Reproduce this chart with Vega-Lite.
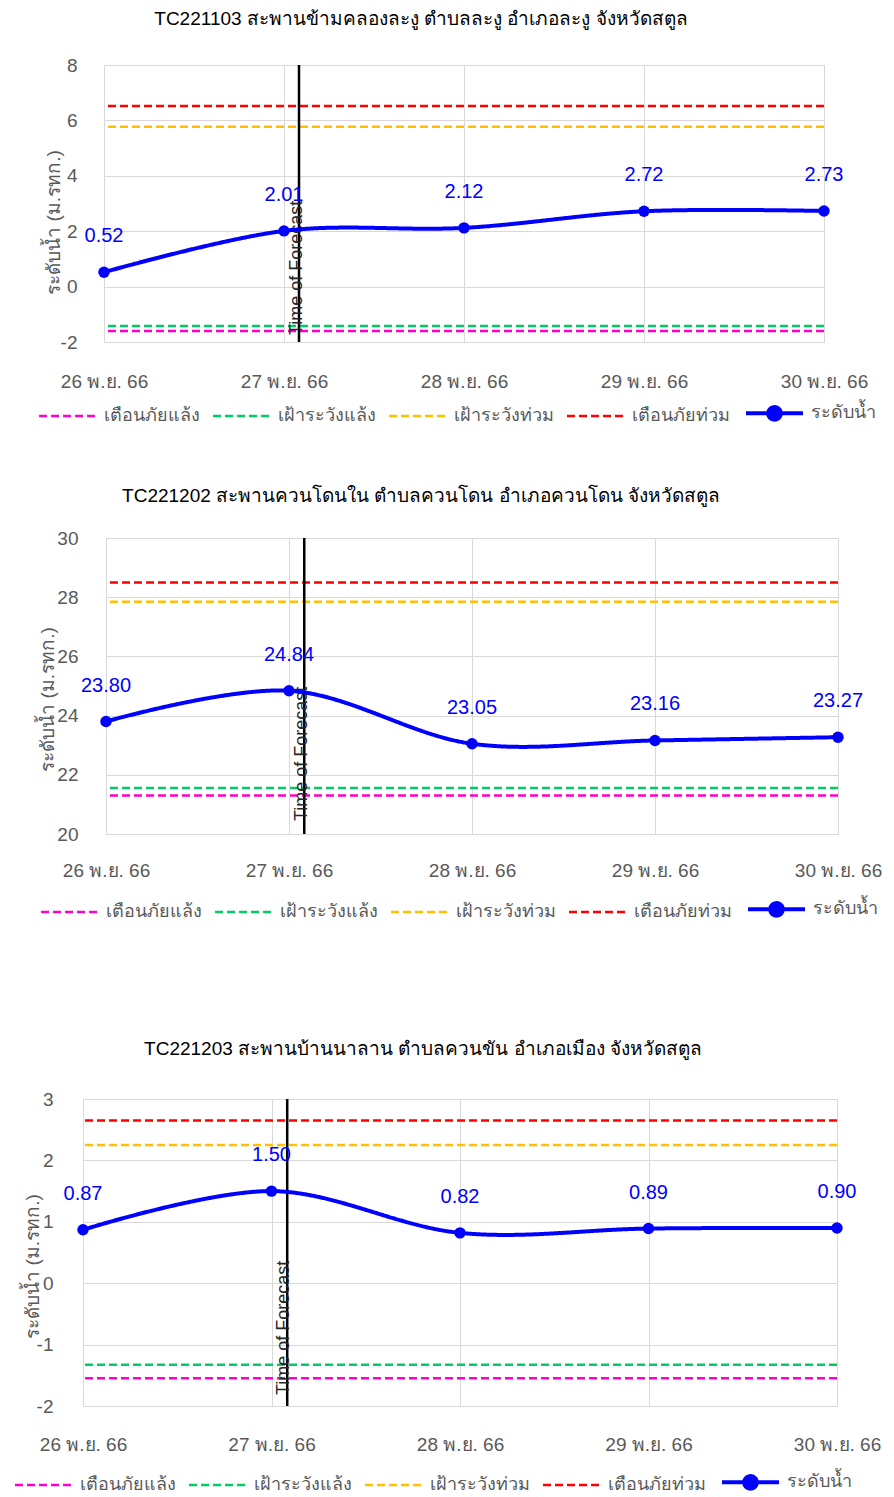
{
  "$schema": "https://vega.github.io/schema/vega-lite/v6.json",
  "padding": {"left": 15, "top": 9, "right": 0, "bottom": 0},
  "background": "white",
  "config": {
    "font": "Liberation Sans",
    "view": {"stroke": "#d9d9d9"},
    "axis": {"domain": false, "ticks": false, "gridColor": "#d9d9d9", "gridWidth": 1, "labelColor": "#595959", "labelFontSize": 19, "titleColor": "#595959", "titleFontSize": 19, "titleFontWeight": "normal"},
    "title": {"fontSize": 19, "fontWeight": "normal", "color": "#000000"},
    "legend": {"symbolType": "stroke", "symbolSize": 3249, "symbolStrokeWidth": 2.5, "symbolOffset": 18.5, "labelFontSize": 18, "labelColor": "#595959", "labelOffset": 27.5, "columnPadding": 8, "labelLimit": 0, "direction": "horizontal"}
  },
  "resolve": {"scale": {"color": "independent", "strokeDash": "independent"}},
  "spacing": 114,
  "vconcat": [
    {
      "resolve": {"scale": {"color": "independent", "strokeDash": "independent"}},
      "spacing": 57,
      "vconcat": [
        {
          "resolve": {"scale": {"color": "independent", "strokeDash": "independent"}},
          "spacing": -45,
          "hconcat": [
            {"width": 1, "height": 1, "view": {"stroke": null}, "data": {"values": []}, "mark": "point", "encoding": {}},
            {
              "width": 720,
              "height": 277,
              "title": {"text": "TC221103 สะพานข้ามคลองละงู ตำบลละงู อำเภอละงู  จังหวัดสตูล", "dx": -43, "offset": 27},
              "layer": [
                {
                  "data": {"values": [
                    {"series": "เตือนภัยแล้ง", "level": -1.6},
                    {"series": "เฝ้าระวังแล้ง", "level": -1.42},
                    {"series": "เฝ้าระวังท่วม", "level": 5.77},
                    {"series": "เตือนภัยท่วม", "level": 6.52}
                  ]},
                  "mark": {"type": "rule", "strokeWidth": 2.5},
                  "encoding": {
                    "y": {"field": "level", "type": "quantitative", "title": "ระดับน้ำ (ม.รทก.)", "scale": {"domain": [-2, 8], "nice": false}, "axis": {"values": [-2, 0, 2, 4, 6, 8], "format": "d", "labelExpr": "replace(datum.label, '−', '-')", "labelPadding": 27, "titleX": -51, "titleY": 157, "titleAlign": "center", "titleBaseline": "middle", "titleAngle": 270}},
                    "color": {"field": "series", "type": "nominal", "scale": {"domain": ["เตือนภัยแล้ง", "เฝ้าระวังแล้ง", "เฝ้าระวังท่วม", "เตือนภัยท่วม", "ระดับน้ำ"], "range": ["#FF00CC", "#00CC66", "#FFC000", "#FF0000", "#0000FF"]}, "legend": {"title": null, "orient": "none", "legendX": -64, "legendY": 339, "encode": {"symbols": {"update": {"shape": {"signal": "datum.value === 'ระดับน้ำ' ? 'M-1,0L1,0M-0.22,0A0.22,0.22,0,1,1,0.22,0A0.22,0.22,0,1,1,-0.22,0Z' : 'stroke'"}, "strokeWidth": {"signal": "datum.value === 'ระดับน้ำ' ? 4 : 2.5"}, "fill": {"signal": "datum.value === 'ระดับน้ำ' ? '#0000FF' : 'transparent'"}}}}}},
                    "strokeDash": {"field": "series", "type": "nominal", "scale": {"domain": ["เตือนภัยแล้ง", "เฝ้าระวังแล้ง", "เฝ้าระวังท่วม", "เตือนภัยท่วม", "ระดับน้ำ"], "range": [[8, 4], [8, 4], [8, 4], [8, 4], [1, 0]]}, "legend": {"title": null, "orient": "none", "legendX": -64, "legendY": 339}}
                  }
                },
                {
                  "data": {"values": [{"date": "2023-11-27T02:00:00"}]},
                  "mark": {"type": "rule", "color": "#000000", "strokeWidth": 2.5},
                  "encoding": {
                    "x": {"field": "date", "type": "temporal", "title": null, "scale": {"domain": [{"year": 2023, "month": 11, "date": 26}, {"year": 2023, "month": 11, "date": 30}], "nice": false}, "axis": {"tickCount": {"interval": "day", "step": 1}, "labelExpr": "date(datum.value) + ' พ.ย. 66'", "labelFlush": false, "labelOverlap": false, "labelPadding": 30, "grid": true}}
                  }
                },
                {
                  "data": {"values": [{"date": "2023-11-27T02:00:00"}]},
                  "mark": {"type": "text", "text": "Time of Forecast", "angle": 270, "align": "left", "baseline": "middle", "fontSize": 18, "color": "#262626", "dx": 7, "dy": -2},
                  "encoding": {
                    "x": {"field": "date", "type": "temporal", "title": null},
                    "y": {"datum": -2}
                  }
                },
                {
                  "data": {"values": [
                    {"date": "2023-11-26T00:00:00", "level": 0.52, "series": "ระดับน้ำ"},
                    {"date": "2023-11-27T00:00:00", "level": 2.01, "series": "ระดับน้ำ"},
                    {"date": "2023-11-28T00:00:00", "level": 2.12, "series": "ระดับน้ำ"},
                    {"date": "2023-11-29T00:00:00", "level": 2.72, "series": "ระดับน้ำ"},
                    {"date": "2023-11-30T00:00:00", "level": 2.73, "series": "ระดับน้ำ"}
                  ]},
                  "layer": [
                    {
                      "mark": {"type": "line", "interpolate": "cardinal", "strokeWidth": 4, "point": {"filled": true, "size": 130}},
                      "encoding": {
                        "x": {"field": "date", "type": "temporal", "title": null},
                        "y": {"field": "level", "type": "quantitative", "title": "ระดับน้ำ (ม.รทก.)"},
                        "color": {"field": "series", "type": "nominal"},
                        "strokeDash": {"field": "series", "type": "nominal"}
                      }
                    },
                    {
                      "mark": {"type": "text", "dy": -36, "fontSize": 20, "color": "#0000FF"},
                      "encoding": {
                        "x": {"field": "date", "type": "temporal", "title": null},
                        "y": {"field": "level", "type": "quantitative", "title": "ระดับน้ำ (ม.รทก.)"},
                        "text": {"field": "level", "type": "quantitative", "format": ".2f"}
                      }
                    }
                  ]
                }
              ]
            }
          ]
        },
        {
          "resolve": {"scale": {"color": "independent", "strokeDash": "independent"}},
          "spacing": -47,
          "hconcat": [
            {"width": 1, "height": 1, "view": {"stroke": null}, "data": {"values": []}, "mark": "point", "encoding": {}},
            {
              "width": 732,
              "height": 296,
              "title": {"text": "TC221202 สะพานควนโดนใน ตำบลควนโดน อำเภอควนโดน  จังหวัดสตูล", "dx": -51, "offset": 23},
              "layer": [
                {
                  "data": {"values": [
                    {"series": "เตือนภัยแล้ง", "level": 21.3},
                    {"series": "เฝ้าระวังแล้ง", "level": 21.55},
                    {"series": "เฝ้าระวังท่วม", "level": 27.85},
                    {"series": "เตือนภัยท่วม", "level": 28.5}
                  ]},
                  "mark": {"type": "rule", "strokeWidth": 2.5},
                  "encoding": {
                    "y": {"field": "level", "type": "quantitative", "title": "ระดับน้ำ (ม.รทก.)", "scale": {"domain": [20, 30], "nice": false, "zero": false}, "axis": {"values": [20, 22, 24, 26, 28, 30], "format": "d", "labelPadding": 28, "titleX": -59, "titleY": 161, "titleAlign": "center", "titleBaseline": "middle", "titleAngle": 270}},
                    "color": {"field": "series", "type": "nominal", "scale": {"domain": ["เตือนภัยแล้ง", "เฝ้าระวังแล้ง", "เฝ้าระวังท่วม", "เตือนภัยท่วม", "ระดับน้ำ"], "range": ["#FF00CC", "#00CC66", "#FFC000", "#FF0000", "#0000FF"]}, "legend": {"title": null, "orient": "none", "legendX": -64, "legendY": 362, "encode": {"symbols": {"update": {"shape": {"signal": "datum.value === 'ระดับน้ำ' ? 'M-1,0L1,0M-0.22,0A0.22,0.22,0,1,1,0.22,0A0.22,0.22,0,1,1,-0.22,0Z' : 'stroke'"}, "strokeWidth": {"signal": "datum.value === 'ระดับน้ำ' ? 4 : 2.5"}, "fill": {"signal": "datum.value === 'ระดับน้ำ' ? '#0000FF' : 'transparent'"}}}}}},
                    "strokeDash": {"field": "series", "type": "nominal", "scale": {"domain": ["เตือนภัยแล้ง", "เฝ้าระวังแล้ง", "เฝ้าระวังท่วม", "เตือนภัยท่วม", "ระดับน้ำ"], "range": [[8, 4], [8, 4], [8, 4], [8, 4], [1, 0]]}, "legend": {"title": null, "orient": "none", "legendX": -64, "legendY": 362}}
                  }
                },
                {
                  "data": {"values": [{"date": "2023-11-27T02:00:00"}]},
                  "mark": {"type": "rule", "color": "#000000", "strokeWidth": 2.5},
                  "encoding": {
                    "x": {"field": "date", "type": "temporal", "title": null, "scale": {"domain": [{"year": 2023, "month": 11, "date": 26}, {"year": 2023, "month": 11, "date": 30}], "nice": false}, "axis": {"tickCount": {"interval": "day", "step": 1}, "labelExpr": "date(datum.value) + ' พ.ย. 66'", "labelFlush": false, "labelOverlap": false, "labelPadding": 27, "grid": true}}
                  }
                },
                {
                  "data": {"values": [{"date": "2023-11-27T02:00:00"}]},
                  "mark": {"type": "text", "text": "Time of Forecast", "angle": 270, "align": "left", "baseline": "middle", "fontSize": 18, "color": "#262626", "dx": 13, "dy": -2},
                  "encoding": {
                    "x": {"field": "date", "type": "temporal", "title": null},
                    "y": {"datum": 20}
                  }
                },
                {
                  "data": {"values": [
                    {"date": "2023-11-26T00:00:00", "level": 23.80, "series": "ระดับน้ำ"},
                    {"date": "2023-11-27T00:00:00", "level": 24.84, "series": "ระดับน้ำ"},
                    {"date": "2023-11-28T00:00:00", "level": 23.05, "series": "ระดับน้ำ"},
                    {"date": "2023-11-29T00:00:00", "level": 23.16, "series": "ระดับน้ำ"},
                    {"date": "2023-11-30T00:00:00", "level": 23.27, "series": "ระดับน้ำ"}
                  ]},
                  "layer": [
                    {
                      "mark": {"type": "line", "interpolate": "cardinal", "strokeWidth": 4, "point": {"filled": true, "size": 130}},
                      "encoding": {
                        "x": {"field": "date", "type": "temporal", "title": null},
                        "y": {"field": "level", "type": "quantitative", "title": "ระดับน้ำ (ม.รทก.)"},
                        "color": {"field": "series", "type": "nominal"},
                        "strokeDash": {"field": "series", "type": "nominal"}
                      }
                    },
                    {
                      "mark": {"type": "text", "dy": -36, "fontSize": 20, "color": "#0000FF"},
                      "encoding": {
                        "x": {"field": "date", "type": "temporal", "title": null},
                        "y": {"field": "level", "type": "quantitative", "title": "ระดับน้ำ (ม.รทก.)"},
                        "text": {"field": "level", "type": "quantitative", "format": ".2f"}
                      }
                    }
                  ]
                }
              ]
            }
          ]
        }
      ]
    },
    {
      "width": 754,
      "height": 307,
      "title": {"text": "TC221203 สะพานบ้านนาลาน ตำบลควนขัน อำเภอเมือง  จังหวัดสตูล", "dx": -37, "offset": 31},
      "layer": [
        {
          "data": {"values": [
            {"series": "เตือนภัยแล้ง", "level": -1.55},
            {"series": "เฝ้าระวังแล้ง", "level": -1.33},
            {"series": "เฝ้าระวังท่วม", "level": 2.25},
            {"series": "เตือนภัยท่วม", "level": 2.65}
          ]},
          "mark": {"type": "rule", "strokeWidth": 2.5},
          "encoding": {
            "y": {"field": "level", "type": "quantitative", "title": "ระดับน้ำ (ม.รทก.)", "scale": {"domain": [-2, 3], "nice": false}, "axis": {"values": [-2, -1, 0, 1, 2, 3], "format": "d", "labelExpr": "replace(datum.label, '−', '-')", "labelPadding": 30, "titleX": -51, "titleY": 167, "titleAlign": "center", "titleBaseline": "middle", "titleAngle": 270}},
            "color": {"field": "series", "type": "nominal", "scale": {"domain": ["เตือนภัยแล้ง", "เฝ้าระวังแล้ง", "เฝ้าระวังท่วม", "เตือนภัยท่วม", "ระดับน้ำ"], "range": ["#FF00CC", "#00CC66", "#FFC000", "#FF0000", "#0000FF"]}, "legend": {"title": null, "orient": "none", "legendX": -67, "legendY": 374, "encode": {"symbols": {"update": {"shape": {"signal": "datum.value === 'ระดับน้ำ' ? 'M-1,0L1,0M-0.22,0A0.22,0.22,0,1,1,0.22,0A0.22,0.22,0,1,1,-0.22,0Z' : 'stroke'"}, "strokeWidth": {"signal": "datum.value === 'ระดับน้ำ' ? 4 : 2.5"}, "fill": {"signal": "datum.value === 'ระดับน้ำ' ? '#0000FF' : 'transparent'"}}}}}},
            "strokeDash": {"field": "series", "type": "nominal", "scale": {"domain": ["เตือนภัยแล้ง", "เฝ้าระวังแล้ง", "เฝ้าระวังท่วม", "เตือนภัยท่วม", "ระดับน้ำ"], "range": [[8, 4], [8, 4], [8, 4], [8, 4], [1, 0]]}, "legend": {"title": null, "orient": "none", "legendX": -67, "legendY": 374}}
          }
        },
        {
          "data": {"values": [{"date": "2023-11-27T02:00:00"}]},
          "mark": {"type": "rule", "color": "#000000", "strokeWidth": 2.5},
          "encoding": {
            "x": {"field": "date", "type": "temporal", "title": null, "scale": {"domain": [{"year": 2023, "month": 11, "date": 26}, {"year": 2023, "month": 11, "date": 30}], "nice": false}, "axis": {"tickCount": {"interval": "day", "step": 1}, "labelExpr": "date(datum.value) + ' พ.ย. 66'", "labelFlush": false, "labelOverlap": false, "labelPadding": 29, "grid": true}}
          }
        },
        {
          "data": {"values": [{"date": "2023-11-27T02:00:00"}]},
          "mark": {"type": "text", "text": "Time of Forecast", "angle": 270, "align": "left", "baseline": "middle", "fontSize": 18, "color": "#262626", "dx": 11, "dy": -3},
          "encoding": {
            "x": {"field": "date", "type": "temporal", "title": null},
            "y": {"datum": -2}
          }
        },
        {
          "data": {"values": [
            {"date": "2023-11-26T00:00:00", "level": 0.87, "series": "ระดับน้ำ"},
            {"date": "2023-11-27T00:00:00", "level": 1.50, "series": "ระดับน้ำ"},
            {"date": "2023-11-28T00:00:00", "level": 0.82, "series": "ระดับน้ำ"},
            {"date": "2023-11-29T00:00:00", "level": 0.89, "series": "ระดับน้ำ"},
            {"date": "2023-11-30T00:00:00", "level": 0.90, "series": "ระดับน้ำ"}
          ]},
          "layer": [
            {
              "mark": {"type": "line", "interpolate": "cardinal", "strokeWidth": 4, "point": {"filled": true, "size": 130}},
              "encoding": {
                "x": {"field": "date", "type": "temporal", "title": null},
                "y": {"field": "level", "type": "quantitative", "title": "ระดับน้ำ (ม.รทก.)"},
                "color": {"field": "series", "type": "nominal"},
                "strokeDash": {"field": "series", "type": "nominal"}
              }
            },
            {
              "mark": {"type": "text", "dy": -36, "fontSize": 20, "color": "#0000FF"},
              "encoding": {
                "x": {"field": "date", "type": "temporal", "title": null},
                "y": {"field": "level", "type": "quantitative", "title": "ระดับน้ำ (ม.รทก.)"},
                "text": {"field": "level", "type": "quantitative", "format": ".2f"}
              }
            }
          ]
        }
      ]
    }
  ]
}
